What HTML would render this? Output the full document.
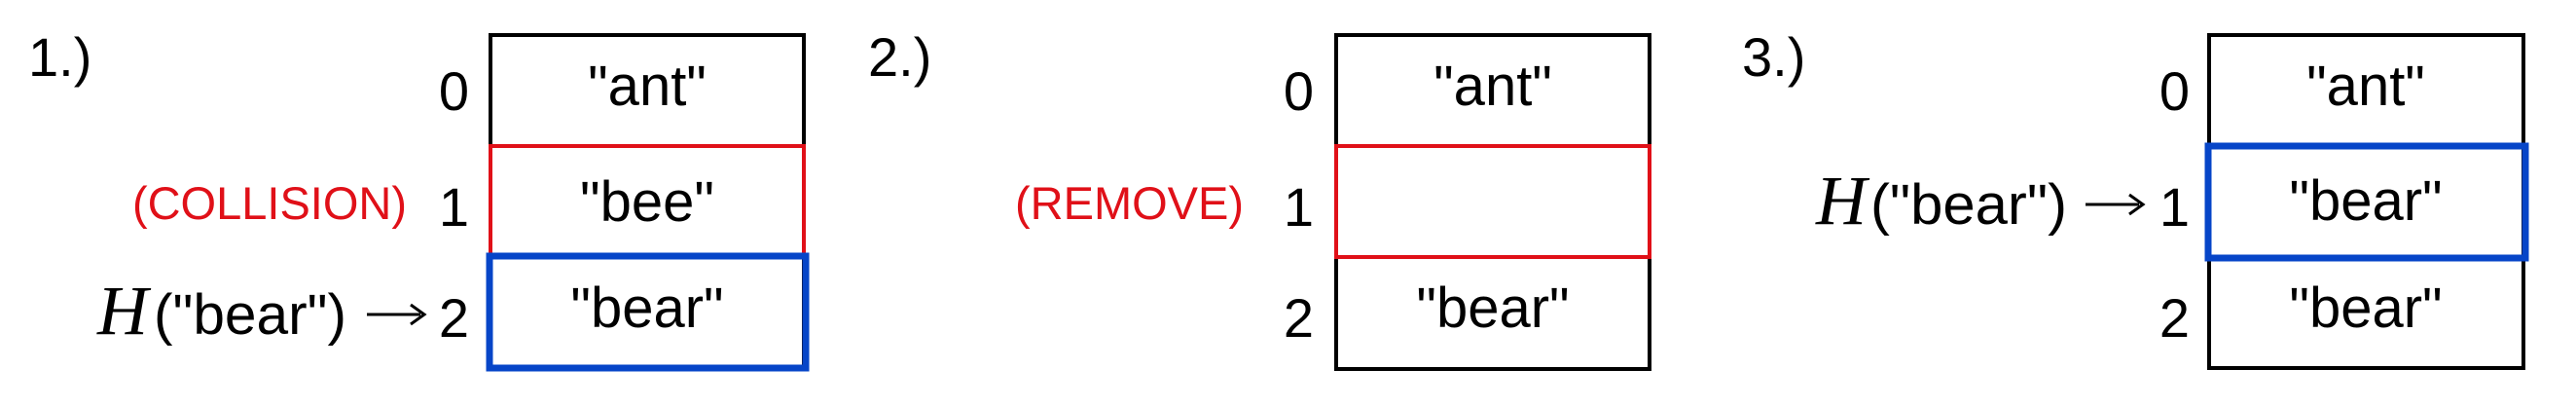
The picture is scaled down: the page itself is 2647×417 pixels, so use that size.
<!DOCTYPE html>
<html><head><meta charset="utf-8"><style>
html,body{margin:0;padding:0;background:#fff;}
svg{display:block;}
text{font-family:"Liberation Sans",Arial,sans-serif;}
.ser{font-family:"Liberation Serif","DejaVu Serif",serif;font-style:italic;}
</style></head><body>
<svg width="2647" height="417" viewBox="0 0 2647 417" xmlns="http://www.w3.org/2000/svg">
<g>
 <text x="29" y="78" font-size="56">1.)</text>
 <rect x="504" y="36" width="322" height="343" fill="none" stroke="#000" stroke-width="4"/>
 <rect x="504" y="150" width="322" height="112" fill="none" stroke="#e01018" stroke-width="4"/>
 <rect x="503" y="263" width="325" height="115" fill="none" stroke="#0645c8" stroke-width="7"/>
 <text x="665" y="108" font-size="58" text-anchor="middle">"ant"</text>
 <text x="665" y="227" font-size="58" text-anchor="middle">"bee"</text>
 <text x="665" y="336" font-size="58" text-anchor="middle">"bear"</text>
 <text x="482" y="113" font-size="56" text-anchor="end">0</text>
 <text x="482" y="232" font-size="56" text-anchor="end">1</text>
 <text x="482" y="346" font-size="56" text-anchor="end">2</text>
 <text x="418" y="225" font-size="47" fill="#e01018" text-anchor="end">(COLLISION)</text>
 <text x="100" y="343" font-size="72" class="ser">H</text>
 <text x="158" y="343" font-size="58" textLength="198" lengthAdjust="spacingAndGlyphs">("bear")</text>
 <g>
  <line x1="377" y1="323" x2="432" y2="323" stroke="#000" stroke-width="3"/>
  <path d="M422,313 L436,323 L422,333" fill="none" stroke="#000" stroke-width="3"/>
 </g>
</g>
<g>
 <text x="892" y="78" font-size="56">2.)</text>
 <rect x="1373" y="36" width="322" height="343" fill="none" stroke="#000" stroke-width="4"/>
 <rect x="1373" y="150" width="322" height="114" fill="none" stroke="#e01018" stroke-width="4"/>
 <text x="1534" y="108" font-size="58" text-anchor="middle">"ant"</text>
 <text x="1534" y="336" font-size="58" text-anchor="middle">"bear"</text>
 <text x="1350" y="113" font-size="56" text-anchor="end">0</text>
 <text x="1350" y="232" font-size="56" text-anchor="end">1</text>
 <text x="1350" y="346" font-size="56" text-anchor="end">2</text>
 <text x="1278" y="225" font-size="47" fill="#e01018" text-anchor="end">(REMOVE)</text>
</g>
<g>
 <text x="1790" y="78" font-size="56">3.)</text>
 <rect x="2270" y="36" width="323" height="342" fill="none" stroke="#000" stroke-width="4"/>
 <rect x="2269" y="150" width="326" height="115" fill="none" stroke="#0645c8" stroke-width="7"/>
 <text x="2431" y="108" font-size="58" text-anchor="middle">"ant"</text>
 <text x="2431" y="226" font-size="58" text-anchor="middle">"bear"</text>
 <text x="2431" y="336" font-size="58" text-anchor="middle">"bear"</text>
 <text x="2250" y="113" font-size="56" text-anchor="end">0</text>
 <text x="2250" y="232" font-size="56" text-anchor="end">1</text>
 <text x="2250" y="346" font-size="56" text-anchor="end">2</text>
 <text x="1866" y="230" font-size="72" class="ser">H</text>
 <text x="1922" y="230" font-size="58" textLength="202" lengthAdjust="spacingAndGlyphs">("bear")</text>
 <g>
  <line x1="2143" y1="210" x2="2198" y2="210" stroke="#000" stroke-width="3"/>
  <path d="M2188,200 L2202,210 L2188,220" fill="none" stroke="#000" stroke-width="3"/>
 </g>
</g>
</svg>
</body></html>
